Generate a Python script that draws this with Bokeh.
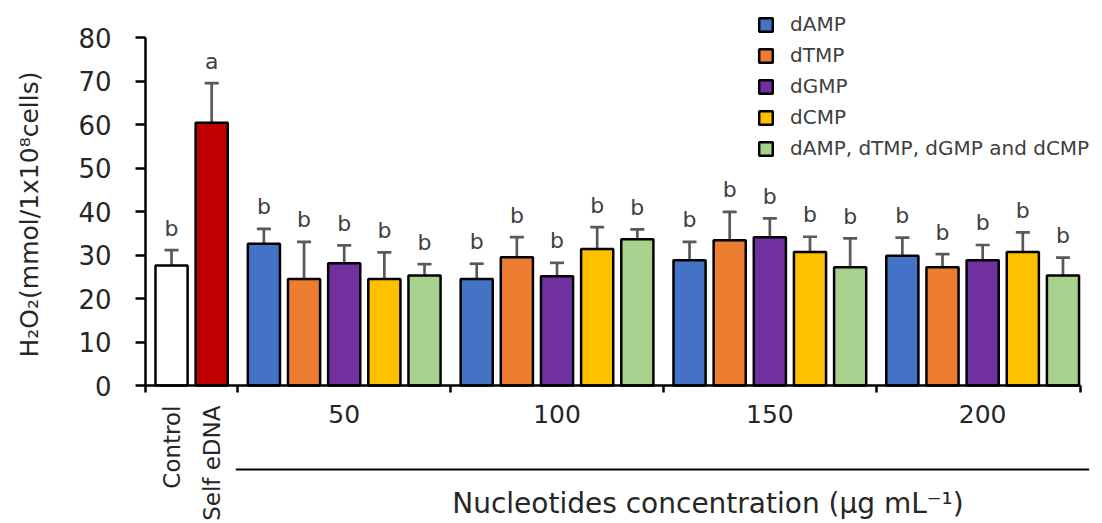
import math
from bokeh.plotting import figure
from bokeh.models import (ColumnDataSource, FixedTicker, Legend, LegendItem,
                          Range1d, Whisker, TeeHead, LinearAxis,
                          CustomJSTickFormatter)
from bokeh.core.properties import value
from bokeh.embed import file_html
from bokeh.resources import INLINE

# ---------------- data ----------------
main_categories = ["Control", "Self eDNA"]
main_means = [27.6, 60.4]
main_sd = [3.5, 9.1]
main_letters = ["b", "a"]
main_colors = ["#FFFFFF", "#C00000"]

concentrations = ["50", "100", "150", "200"]
series_names = ["dAMP", "dTMP", "dGMP", "dCMP", "dAMP, dTMP, dGMP and dCMP"]
series_colors = ["#4472C4", "#ED7D31", "#7030A0", "#FFC000", "#A9D18E"]

dAMP_mean = [32.6, 24.5, 28.8, 29.8]
dAMP_sd = [3.4, 3.5, 4.2, 4.2]
dTMP_mean = [24.5, 29.5, 33.4, 27.2]
dTMP_sd = [8.5, 4.6, 6.5, 3.0]
dGMP_mean = [28.1, 25.1, 34.1, 28.8]
dGMP_sd = [4.1, 3.1, 4.3, 3.5]
dCMP_mean = [24.5, 31.4, 30.7, 30.7]
dCMP_sd = [6.1, 5.0, 3.5, 4.5]
mix_mean = [25.3, 33.6, 27.2, 25.3]
mix_sd = [2.6, 2.3, 6.6, 4.1]
series_letters = ["b", "b", "b", "b"]

series_means = [dAMP_mean, dTMP_mean, dGMP_mean, dCMP_mean, mix_mean]
series_sds = [dAMP_sd, dTMP_sd, dGMP_sd, dCMP_sd, mix_sd]

y_ticks = [0, 10, 20, 30, 40, 50, 60, 70, 80]
x_title = "Nucleotides concentration (µg mL⁻¹)"
y_title = "H₂O₂(mmol/1x10⁸cells)"

# ---------------- layout helpers ----------------
GROUP_START = 2.3
GROUP_STEP = 5.3
BAR_W = 0.8
PX_PER_X = 40.15
X_LEFT = -0.648            # position of the y axis
X_AXIS_END = 22.64
X_START = X_LEFT - 145 / PX_PER_X
X_RIGHT = 23.01

FRAME_TOP = 12
H = 523
Y0_PX = 385
PX_PER_Y = 348 / 80.0
Y_END = (Y0_PX - FRAME_TOP) / PX_PER_Y
Y_START = -(H - Y0_PX) / PX_PER_Y


def sx(g, j):
    return GROUP_START + GROUP_STEP * g + j


def ypx(py):
    return (Y0_PX - py) / PX_PER_Y


def xpx(px):
    return X_START + px / PX_PER_X


FONT = "DejaVu Sans"
TXT = "#262626"
ERR = "#595959"

p = figure(width=1102, height=H, output_backend="svg", toolbar_location=None,
           x_range=Range1d(X_START, X_RIGHT), y_range=Range1d(Y_START, Y_END),
           x_axis_location=None, y_axis_location=None,
           min_border_left=0, min_border_right=7, min_border_top=FRAME_TOP,
           min_border_bottom=0)
p.outline_line_color = None
p.grid.visible = False
p.background_fill_color = "white"
p.border_fill_color = "white"


def draw_errors(src):
    w = Whisker(base="x", upper="hi", lower="lo", source=src,
                line_color=ERR, line_width=2.7,
                upper_head=TeeHead(size=14, line_color=ERR, line_width=2.7),
                lower_head=TeeHead(size=14, line_color=ERR, line_width=2.7))
    p.add_layout(w)
    p.text(x="x", y="hi", text="letter", text_align="center",
           text_baseline="alphabetic", y_offset=-22, text_font_size="22px",
           text_font=value(FONT), text_color="#404040", source=src)


# main bars
src_main = ColumnDataSource(dict(
    x=list(range(len(main_categories))), top=main_means, color=main_colors,
    lo=[m - s for m, s in zip(main_means, main_sd)],
    hi=[m + s for m, s in zip(main_means, main_sd)],
    letter=main_letters, name=main_categories))
p.vbar(x="x", top="top", bottom=0, width=BAR_W, fill_color="color",
       line_color="black", line_width=2.5, source=src_main)
draw_errors(src_main)

renderers = []
for j, (name, col) in enumerate(zip(series_names, series_colors)):
    means = series_means[j]
    sds = series_sds[j]
    src = ColumnDataSource(dict(
        x=[sx(g, j) for g in range(len(concentrations))], top=means,
        lo=[m - s for m, s in zip(means, sds)],
        hi=[m + s for m, s in zip(means, sds)],
        letter=series_letters))
    r = p.vbar(x="x", top="top", bottom=0, width=BAR_W, fill_color=col,
               line_color="black", line_width=2.5, source=src)
    renderers.append(r)
    draw_errors(src)

# legend
legend = Legend(items=[LegendItem(label=n, renderers=[r])
                       for n, r in zip(series_names, renderers)],
                location=(757, H - 160), orientation="vertical",
                glyph_width=17, glyph_height=17, label_height=20, spacing=7,
                label_standoff=16, padding=0, margin=0,
                label_text_font=FONT, label_text_font_size="20px",
                label_text_color="#404040", label_text_baseline="middle",
                border_line_color=None, background_fill_alpha=0)
p.add_layout(legend, "center")

# y axis, drawn at the left edge of the bar area
yax = LinearAxis(fixed_location=X_LEFT, ticker=FixedTicker(ticks=y_ticks),
                 bounds=(0, 80), axis_line_width=2.5, axis_line_color="black",
                 major_tick_line_width=2.5, major_tick_out=10, major_tick_in=0,
                 minor_tick_line_color=None, major_label_standoff=24,
                 major_label_text_font=FONT, major_label_text_font_size="26px",
                 major_label_text_color=TXT)
p.add_layout(yax, "left")

# y axis title
p.text(x=[xpx(29)], y=[ypx(214)], text=[y_title], angle=math.pi / 2,
       text_align="center", text_baseline="middle", text_font=value(FONT),
       text_font_size="25px", text_color=TXT)

# x axis (line + downward ticks at the group boundaries), drawn at y = 0
group_edges = [X_LEFT, 1.65] + [sx(g, 4) + 0.65 for g in range(3)] + [X_AXIS_END]
xax = LinearAxis(fixed_location=0, ticker=FixedTicker(ticks=group_edges),
                 bounds=(X_LEFT, X_AXIS_END),
                 formatter=CustomJSTickFormatter(code="return ''"),
                 axis_line_width=2.5, axis_line_color="black",
                 major_tick_line_width=2.5, major_tick_in=7, major_tick_out=0,
                 minor_tick_line_color=None, major_label_standoff=0)
p.add_layout(xax, "above")

# category labels (rotated)
p.text(x="x", y=ypx(405), text="name", angle=math.pi / 2, text_align="right",
       text_baseline="middle", text_font=value(FONT), text_font_size="23px",
       text_color=TXT, source=src_main)

# concentration labels
src_conc = ColumnDataSource(dict(x=[sx(g, 2) for g in range(len(concentrations))],
                                 t=concentrations))
p.text(x="x", y=ypx(413), text="t", text_align="center", text_baseline="middle",
       text_font=value(FONT), text_font_size="25px", text_color=TXT,
       source=src_conc)

# line under the concentration groups
p.segment(x0=1.6, x1=22.85, y0=ypx(469), y1=ypx(469), line_color="black",
          line_width=2)

p.text(x=[13.36], y=[ypx(503)], text=[x_title], text_align="center",
       text_baseline="middle", text_font=value(FONT), text_font_size="28px",
       text_color=TXT)

open("out.html", "w").write(file_html(p, INLINE))
